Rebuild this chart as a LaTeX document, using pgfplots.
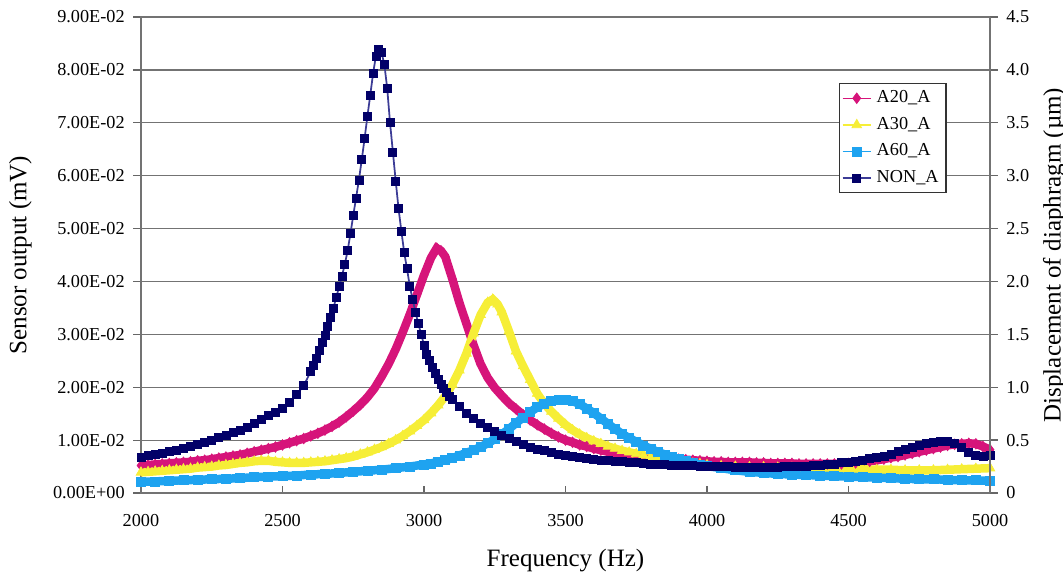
\documentclass[border=0pt]{standalone}
\usepackage{fontspec}
\setmainfont{Liberation Serif}
\usepackage{pgfplots}
\pgfplotsset{compat=1.18}

\definecolor{cA20}{RGB}{214,20,122}
\definecolor{cA30}{RGB}{246,238,55}
\definecolor{cA60}{RGB}{30,163,240}
\definecolor{cNON}{RGB}{2,0,104}
\definecolor{cNONl}{RGB}{60,60,150}

\newcommand{\tickfont}{\fontsize{7.3}{8.5}\selectfont}
\newcommand{\labfont}{\fontsize{10}{12}\selectfont}

\begin{document}
\begin{tikzpicture}
\useasboundingbox (-56.4pt,-34pt) rectangle (368.8pt,197.2pt);
\begin{axis}[
    scale only axis, width=339.6pt, height=190.4pt,
    xmin=2000, xmax=5000, ymin=0, ymax=0.09,
    xtick={2000,2500,3000,3500,4000,4500,5000},
    ytick={0,0.01,0.02,0.03,0.04,0.05,0.06,0.07,0.08,0.09},
    yticklabels={0.00E+00,1.00E-02,2.00E-02,3.00E-02,4.00E-02,5.00E-02,6.00E-02,7.00E-02,8.00E-02,9.00E-02},
    scaled y ticks=false,
    xtick pos=bottom, ytick pos=left,
    xtick align=inside, ytick align=outside,
    major tick length=3pt,
    ymajorgrids, grid style={black!55, line width=0.5pt},
    axis line style={black!55, line width=0.5pt},
    tick style={black!60, line width=0.5pt},
    ticklabel style={font=\tickfont},
    /pgf/number format/1000 sep={},
    /pgf/number format/assume math mode=true,
    xticklabel style={yshift=-5pt},
    xlabel={Frequency (Hz)}, ylabel={Sensor output (mV)},
    label style={font=\labfont},
    xlabel style={at={(axis description cs:0.5,-0.141)}, anchor=center},
    ylabel style={at={(axis description cs:-0.142,0.5)}, anchor=center},
    legend style={at={(0.949,0.861)}, anchor=north east, draw=black!80, line width=0.5pt,
        font=\tickfont, row sep=1.1pt, inner xsep=1pt, inner ysep=1pt,
        nodes={inner ysep=1.6pt}},
    legend cell align=left,
    legend image code/.code={\draw[mark repeat=2,mark phase=2] plot coordinates {(0cm,0cm) (0.2cm,0cm) (0.4cm,0cm)};},
    legend image post style={line width=0.6pt},
]
% A20_A
\addplot[color=cA20, line width=3.4pt, mark=diamond*, mark size=2.1pt, mark options={line width=0.3pt}] coordinates {
(2000,0.0052)(2025,0.0053)(2050,0.0054)(2075,0.0055)(2100,0.0056)(2125,0.0057)(2150,0.0058)(2175,0.0059)
(2200,0.0061)(2225,0.0062)(2250,0.0064)(2275,0.0066)(2300,0.0068)(2325,0.0070)(2350,0.0072)(2375,0.0075)
(2400,0.0078)(2425,0.0081)(2450,0.0084)(2475,0.0087)(2500,0.0091)(2525,0.0095)(2550,0.0099)(2575,0.0103)
(2600,0.0108)(2625,0.0113)(2650,0.0119)(2675,0.0126)(2700,0.0134)(2725,0.0144)(2750,0.0155)(2775,0.0167)
(2800,0.0181)(2825,0.0198)(2850,0.0220)(2875,0.0244)(2900,0.0272)(2925,0.0304)(2950,0.0338)(2975,0.0375)
(3000,0.0412)(3025,0.0445)(3045,0.0463)(3060,0.0458)(3075,0.0447)(3100,0.0405)(3125,0.0360)(3150,0.0320)
(3175,0.0280)(3200,0.0244)(3225,0.0218)(3250,0.0199)(3275,0.0184)(3300,0.0170)(3325,0.0159)(3350,0.0148)
(3375,0.0138)(3400,0.0129)(3425,0.0121)(3450,0.0113)(3475,0.0106)(3500,0.0100)(3525,0.0096)(3550,0.0091)
(3575,0.0088)(3600,0.0084)(3625,0.0081)(3650,0.0078)(3675,0.0076)(3700,0.0074)(3725,0.0072)(3750,0.0071)
(3775,0.0069)(3800,0.0068)(3825,0.0067)(3850,0.0066)(3875,0.0065)(3900,0.0064)(3925,0.0063)(3950,0.0062)
(3975,0.0061)(4000,0.0060)(4025,0.0059)(4050,0.0059)(4075,0.0058)(4100,0.0058)(4125,0.0058)(4150,0.0058)
(4175,0.0057)(4200,0.0057)(4225,0.0056)(4250,0.0056)(4275,0.0056)(4300,0.0056)(4325,0.0055)(4350,0.0055)
(4375,0.0055)(4400,0.0055)(4425,0.0055)(4450,0.0055)(4475,0.0055)(4500,0.0056)(4525,0.0057)(4550,0.0059)
(4575,0.0060)(4600,0.0062)(4625,0.0064)(4650,0.0067)(4675,0.0069)(4700,0.0072)(4725,0.0075)(4750,0.0078)
(4775,0.0081)(4800,0.0084)(4825,0.0087)(4850,0.0090)(4875,0.0092)(4900,0.0093)(4925,0.0094)(4950,0.0093)
(4975,0.0088)(5000,0.0082)
};
\addlegendentry{A20\_A}
% A30_A
\addplot[color=cA30, line width=3.4pt, mark=triangle*, mark size=2.2pt, mark options={line width=0.3pt}] coordinates {
(2000,0.0039)(2025,0.0040)(2050,0.0041)(2075,0.0042)(2100,0.0043)(2125,0.0044)(2150,0.0045)(2175,0.0046)
(2200,0.0048)(2225,0.0049)(2250,0.0050)(2275,0.0052)(2300,0.0053)(2325,0.0055)(2350,0.0057)(2375,0.0058)
(2400,0.0060)(2425,0.0061)(2450,0.0061)(2475,0.0059)(2500,0.0058)(2525,0.0057)(2550,0.0057)(2575,0.0057)
(2600,0.0058)(2625,0.0059)(2650,0.0060)(2675,0.0062)(2700,0.0064)(2725,0.0066)(2750,0.0069)(2775,0.0073)
(2800,0.0077)(2825,0.0082)(2850,0.0087)(2875,0.0093)(2900,0.0100)(2925,0.0108)(2950,0.0117)(2975,0.0127)
(3000,0.0138)(3025,0.0151)(3050,0.0166)(3075,0.0183)(3100,0.0205)(3125,0.0232)(3150,0.0264)(3175,0.0302)
(3200,0.0337)(3225,0.0360)(3243,0.0366)(3260,0.0357)(3275,0.0342)(3300,0.0306)(3325,0.0268)(3350,0.0240)
(3375,0.0214)(3400,0.0188)(3425,0.0169)(3450,0.0154)(3475,0.0141)(3500,0.0129)(3525,0.0119)(3550,0.0111)
(3575,0.0104)(3600,0.0098)(3625,0.0093)(3650,0.0088)(3675,0.0084)(3700,0.0080)(3725,0.0077)(3750,0.0074)
(3775,0.0071)(3800,0.0068)(3825,0.0066)(3850,0.0064)(3875,0.0062)(3900,0.0060)(3925,0.0058)(3950,0.0056)
(3975,0.0055)(4000,0.0053)(4050,0.0051)(4100,0.0050)(4150,0.0049)(4200,0.0049)(4250,0.0048)(4300,0.0048)
(4350,0.0047)(4400,0.0046)(4450,0.0046)(4500,0.0045)(4550,0.0045)(4600,0.0044)(4650,0.0044)(4700,0.0043)
(4750,0.0043)(4800,0.0043)(4850,0.0044)(4900,0.0045)(4950,0.0046)(5000,0.0047)
};
\addlegendentry{A30\_A}
% A60_A
\addplot[color=cA60, line width=3.4pt, mark=square*, mark size=1.8pt, mark options={line width=0.3pt}] coordinates {
(2000,0.0021)(2050,0.0022)(2100,0.0023)(2150,0.0024)(2200,0.0025)(2250,0.0026)(2300,0.0027)(2350,0.0028)
(2400,0.0030)(2450,0.0031)(2500,0.0032)(2550,0.0033)(2600,0.0035)(2650,0.0036)(2700,0.0038)(2750,0.0040)
(2800,0.0042)(2850,0.0044)(2900,0.0047)(2950,0.0050)(3000,0.0054)(3025,0.0056)(3050,0.0059)(3075,0.0062)
(3100,0.0066)(3125,0.0071)(3150,0.0076)(3175,0.0081)(3200,0.0087)(3225,0.0094)(3250,0.0102)(3275,0.0111)
(3300,0.0121)(3325,0.0132)(3350,0.0143)(3375,0.0153)(3400,0.0162)(3425,0.0169)(3450,0.0174)(3475,0.0177)
(3500,0.0177)(3525,0.0174)(3550,0.0168)(3575,0.0160)(3600,0.0151)(3625,0.0141)(3650,0.0131)(3675,0.0121)
(3700,0.0112)(3725,0.0104)(3750,0.0097)(3775,0.0090)(3800,0.0084)(3825,0.0078)(3850,0.0073)(3875,0.0068)
(3900,0.0064)(3925,0.0060)(3950,0.0057)(3975,0.0054)(4000,0.0051)(4050,0.0047)(4100,0.0043)(4150,0.0040)
(4200,0.0038)(4250,0.0036)(4300,0.0035)(4350,0.0034)(4400,0.0033)(4450,0.0032)(4500,0.0031)(4550,0.0030)
(4600,0.0029)(4650,0.0028)(4700,0.0027)(4750,0.0026)(4800,0.0026)(4850,0.0025)(4900,0.0024)(4950,0.0024)
(5000,0.0023)
};
\addlegendentry{A60\_A}
% NON_A
\addplot[color=cNONl, line width=0.7pt, mark=square*, mark size=1.6pt, mark options={draw=cNON, fill=cNON, line width=0.3pt}] coordinates {
(2000,0.0068)(2025,0.0071)(2050,0.0073)(2075,0.0075)(2100,0.0078)(2125,0.0081)(2150,0.0084)(2175,0.0088)
(2200,0.0092)(2225,0.0096)(2250,0.0100)(2275,0.0105)(2300,0.0109)(2325,0.0114)(2350,0.0119)(2375,0.0125)
(2400,0.0132)(2425,0.0139)(2450,0.0146)(2475,0.0152)(2500,0.0160)(2525,0.0172)(2550,0.0186)(2575,0.0203)
(2600,0.0230)(2610,0.0242)(2620,0.0255)(2630,0.0269)(2640,0.0284)(2650,0.0298)(2660,0.0315)(2670,0.0332)
(2680,0.0350)(2690,0.0370)(2700,0.0390)(2710,0.0410)(2720,0.0432)(2730,0.0458)(2740,0.0490)(2750,0.0525)
(2760,0.0558)(2770,0.0592)(2780,0.0630)(2790,0.0670)(2800,0.0712)(2810,0.0752)(2820,0.0793)(2830,0.0826)
(2840,0.0838)(2850,0.0833)(2860,0.0810)(2870,0.0765)(2880,0.0700)(2890,0.0645)(2900,0.0590)(2910,0.0538)
(2920,0.0495)(2930,0.0455)(2940,0.0424)(2950,0.0390)(2960,0.0366)(2970,0.0342)(2980,0.0320)(2990,0.0300)
(3000,0.0280)(3010,0.0263)(3020,0.0250)(3030,0.0238)(3040,0.0226)(3050,0.0215)(3060,0.0206)(3070,0.0198)
(3080,0.0190)(3090,0.0183)(3100,0.0177)(3125,0.0163)(3150,0.0151)(3175,0.0141)(3200,0.0132)(3225,0.0124)
(3250,0.0116)(3275,0.0109)(3300,0.0103)(3325,0.0097)(3350,0.0092)(3375,0.0087)(3400,0.0083)(3425,0.0080)
(3450,0.0077)(3475,0.0074)(3500,0.0071)(3525,0.0069)(3550,0.0067)(3575,0.0065)(3600,0.0063)(3625,0.0062)
(3650,0.0061)(3675,0.0060)(3700,0.0059)(3725,0.0058)(3750,0.0057)(3775,0.0056)(3800,0.0055)(3825,0.0054)
(3850,0.0054)(3875,0.0053)(3900,0.0053)(3925,0.0052)(3950,0.0052)(3975,0.0051)(4000,0.0051)(4025,0.0050)
(4050,0.0050)(4075,0.0050)(4100,0.0049)(4125,0.0049)(4150,0.0049)(4175,0.0049)(4200,0.0049)(4225,0.0049)
(4250,0.0049)(4275,0.0050)(4300,0.0050)(4325,0.0050)(4350,0.0051)(4375,0.0052)(4400,0.0053)(4425,0.0054)
(4450,0.0055)(4475,0.0057)(4500,0.0058)(4525,0.0060)(4550,0.0062)(4575,0.0065)(4600,0.0067)(4625,0.0070)
(4650,0.0074)(4675,0.0078)(4700,0.0082)(4725,0.0086)(4750,0.0090)(4775,0.0093)(4800,0.0096)(4825,0.0097)
(4850,0.0097)(4875,0.0094)(4900,0.0086)(4925,0.0077)(4950,0.0071)(4975,0.0069)(5000,0.0071)
};
\addlegendentry{NON\_A}
\end{axis}
\begin{axis}[
    scale only axis, width=339.6pt, height=190.4pt,
    xmin=2000, xmax=5000, ymin=0, ymax=4.5,
    axis y line*=right, axis x line=none,
    ytick={0,0.5,1,1.5,2,2.5,3,3.5,4,4.5},
    yticklabels={0,0.5,1.0,1.5,2.0,2.5,3.0,3.5,4.0,4.5},
    ytick align=outside, major tick length=3pt,
    axis line style={black!55, line width=0.5pt},
    tick style={black!60, line width=0.5pt},
    ticklabel style={font=\tickfont},
    ylabel={Displacement of diaphragm (µm)},
    label style={font=\labfont},
    ylabel style={at={(axis description cs:1.076,0.5)}, anchor=center},
]
\addplot[draw=none] coordinates {(2000,0)};
\end{axis}
\end{tikzpicture}
\end{document}
